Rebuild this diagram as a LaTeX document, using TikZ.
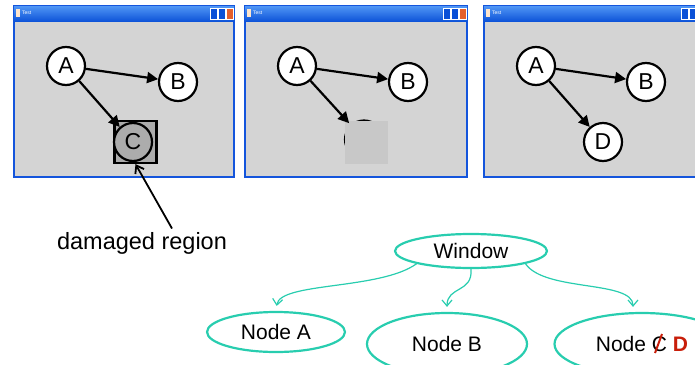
\documentclass[tikz,border=0pt]{standalone}
\usepackage{fontspec}
\setmainfont{Liberation Sans}
\usetikzlibrary{arrows.meta,shapes.geometric}
\definecolor{winblue}{RGB}{20,85,220}
\definecolor{bartop}{RGB}{80,150,245}
\definecolor{barbot}{RGB}{10,80,215}
\definecolor{clientgray}{RGB}{212,212,212}
\definecolor{damgray}{RGB}{172,172,172}
\definecolor{patchgray}{RGB}{200,200,200}
\definecolor{treeteal}{RGB}{40,205,175}
\definecolor{cdred}{RGB}{200,30,10}
\definecolor{closered}{RGB}{228,95,45}
\newcommand\testwin[3]{%
  \fill[winblue] (#1,5) rectangle (#2,178);
  \shade[top color=bartop,bottom color=barbot] (#1+1,6) rectangle (#2-1,22);
  \fill[white!80!orange] (#1+3,9) rectangle (#1+7,17);
  \node[font=\fontsize{5}{5}\selectfont,text=white,anchor=west,inner sep=0] (title#3) at (#1+9,13) {Test};
  \draw[white,fill=barbot] (#2-25,8) rectangle (#2-18,19);
  \draw[white,fill=barbot] (#2-17,8) rectangle (#2-10,19);
  \draw[white,fill=closered] (#2-9,8) rectangle (#2-2,19);
  \fill[clientgray] (#1+2,22) rectangle (#2-2,176);
}
\begin{document}
\begin{tikzpicture}[x=1pt,y=-1pt,
  circ/.style={circle,draw,line width=2.2pt,fill=white,minimum size=38pt,inner sep=0pt,font=\fontsize{23}{23}\selectfont},
  link/.style={line width=2.2pt,-{Triangle[length=11pt,width=11pt]}},
  pointer/.style={line width=1.8pt,-{Straight Barb[length=7pt,width=10pt]}},
  treenode/.style={ellipse,draw=treeteal,line width=2.2pt,inner sep=0pt,font=\fontsize{21}{21}\selectfont},
  treelink/.style={draw=treeteal,line width=1.2pt,shorten >=5pt,-{Straight Barb[length=6pt,width=10pt]}}]
  \useasboundingbox (0,0) rectangle (695,364);
  \clip (0,0) rectangle (695,364);
  \testwin{13}{235}{1}
  \testwin{244}{468}{2}
  \testwin{483}{706}{3}
  \node[circ] (a1) at (66,66) {A};
  \node[circ] (b1) at (178,82) {B};
  \node[draw,line width=2.2pt,fill=damgray,minimum size=42pt,inner sep=0pt] (sq1) at (135.5,142) {};
  \node[circ,fill=damgray] (c1) at (133,142) {C};
  \node[circ] (a2) at (297,66) {A};
  \node[circ] (b2) at (408,82) {B};
  \node[circ] (c2) at (364,139.5) {C};
  \node[fill=patchgray,minimum size=43pt,inner sep=0pt] (sq2) at (366.5,142) {};
  \node[circ] (a3) at (536,66) {A};
  \node[circ] (b3) at (646,82) {B};
  \node[circ] (d3) at (603,142) {D};
  \draw[link] (a1) -- (b1);
  \draw[link] (a1) -- (c1);
  \draw[link] (a2) -- (b2);
  \draw[link,shorten >=2pt] (a2) -- (c2);
  \draw[link] (a3) -- (b3);
  \draw[link] (a3) -- (d3);
  \node[font=\fontsize{23.5}{23.5}\selectfont] (dmg) at (142,243) {damaged region};
  \draw[pointer] ([xshift=30pt]dmg.north) -- (sq1.south);
  \node[treenode,minimum width=152pt,minimum height=34pt] (win) at (471,251) {Window};
  \node[treenode,minimum width=138pt,minimum height=40pt] (na) at (276,332) {Node A};
  \node[treenode,minimum width=160pt,minimum height=62pt] (nb) at (447,344) {Node B};
  \node[treenode,minimum width=175pt,minimum height=62pt] (ncd) at (642,344)
    {Node C \textcolor{cdred}{\bfseries D}};
  \draw[cdred,line width=2pt] (655,353) -- (662,334);
  \draw[treelink] (win.south west) .. controls (380,290) and (280,282) .. (na.north);
  \draw[treelink] (win.south) .. controls (473,293) and (447,286) .. (nb.north);
  \draw[treelink] (win.south east) .. controls (545,292) and (633,280) .. ([xshift=-9pt]ncd.north);
\end{tikzpicture}
\end{document}
